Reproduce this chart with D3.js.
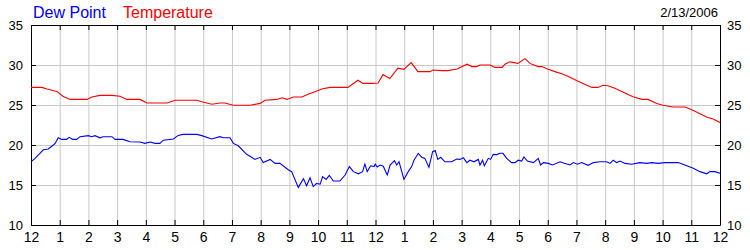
<!DOCTYPE html>
<html>
<head>
<meta charset="utf-8">
<script src="https://cdn.jsdelivr.net/npm/d3@7"></script>
<style>
  html, body { margin: 0; padding: 0; background: #fff; }
  svg { display: block; font-family: "Liberation Sans", Arial, sans-serif; }
</style>
</head>
<body>
<div id="chart"></div>
<script>
// --- Data (hours since midnight, 2/13/2006) ---
const chartDate = "2/13/2006";
const hourLabels = ["12","1","2","3","4","5","6","7","8","9","10","11","12","1","2","3","4","5","6","7","8","9","10","11","12"];
const yTicks = [10, 15, 20, 25, 30, 35];

const tempHours = [0.00,0.38,0.56,0.90,1.11,1.36,1.95,2.12,2.40,2.82,3.10,3.34,3.80,4.04,4.74,5.02,5.78,5.95,6.30,6.58,6.76,7.04,7.63,7.98,8.15,8.57,8.74,8.92,9.13,9.44,9.65,9.89,10.13,10.41,11.04,11.39,11.56,11.88,12.09,12.26,12.50,12.78,12.99,13.24,13.48,13.90,14.00,14.32,14.52,14.84,15.19,15.36,15.53,15.64,15.99,16.16,16.41,16.51,16.68,16.96,17.21,17.38,17.66,17.80,18.01,18.25,18.49,18.70,19.02,19.23,19.54,19.75,19.92,20.10,20.34,20.69,20.97,21.28,21.49,21.80,22.01,22.36,22.78,23.02,23.55,23.76,24.00];
const tempValues = [27.2,27.2,27.0,26.7,26.1,25.7,25.7,26.0,26.2,26.2,26.1,25.7,25.7,25.25,25.25,25.6,25.6,25.4,25.1,25.25,25.25,24.96,24.96,25.2,25.6,25.7,25.9,25.7,26.0,26.0,26.33,26.67,27.0,27.2,27.2,28.1,27.7,27.7,27.75,28.8,28.3,29.6,29.46,30.3,29.17,29.17,29.37,29.3,29.3,29.5,30.1,29.8,29.8,30.0,30.0,29.7,29.7,30.1,30.4,30.2,30.8,30.2,29.8,29.8,29.46,29.17,28.9,28.6,28.04,27.7,27.2,27.2,27.46,27.4,27.1,26.5,26.04,25.7,25.7,25.2,24.96,24.75,24.75,24.4,23.46,23.25,22.8];

const dewHours = [0.00,0.14,0.31,0.43,0.60,0.78,0.84,0.95,1.07,1.24,1.33,1.45,1.59,1.71,2.00,2.11,2.23,2.40,2.51,2.82,2.93,3.20,3.45,3.80,3.97,4.15,4.32,4.49,4.61,4.96,5.13,5.29,5.78,5.95,6.29,6.58,6.70,6.93,7.05,7.22,7.51,7.63,7.80,7.98,8.09,8.33,8.50,8.67,8.96,9.08,9.31,9.49,9.60,9.72,9.83,9.95,10.07,10.16,10.28,10.39,10.53,10.76,10.94,11.09,11.23,11.40,11.55,11.63,11.71,11.83,11.95,11.99,12.06,12.16,12.27,12.41,12.51,12.66,12.74,12.82,12.99,13.14,13.26,13.34,13.49,13.61,13.72,13.86,13.99,14.08,14.17,14.27,14.42,14.65,14.83,14.94,15.06,15.18,15.29,15.43,15.58,15.64,15.73,15.79,15.93,16.01,16.10,16.22,16.34,16.44,16.57,16.74,16.86,16.97,17.09,17.17,17.29,17.50,17.67,17.75,17.85,18.02,18.17,18.43,18.60,18.78,18.89,19.03,19.18,19.41,19.59,19.82,20.05,20.17,20.28,20.40,20.52,20.69,20.92,21.21,21.45,21.62,21.85,22.08,22.55,22.84,23.07,23.30,23.54,23.65,23.82,24.00];
const dewValues = [17.9,18.33,18.96,19.4,19.5,20.0,20.2,20.9,20.7,20.7,20.96,20.7,20.7,21.04,21.17,21.04,21.17,20.9,21.04,21.04,20.7,20.7,20.4,20.37,20.2,20.37,20.2,20.2,20.6,20.75,21.2,21.33,21.33,21.17,20.75,21.04,20.9,20.9,20.2,19.9,18.83,18.6,18.2,18.46,17.8,18.2,17.7,17.7,16.9,16.67,14.7,15.8,14.9,15.9,14.8,15.2,15.1,16.04,15.7,16.2,15.5,15.5,16.25,17.3,16.67,16.4,16.67,17.6,16.67,17.4,17.3,17.6,17.25,17.5,17.35,16.25,17.5,18.04,17.5,17.9,15.7,16.67,17.3,18.1,18.96,18.46,18.33,17.2,19.17,19.3,18.2,18.46,17.9,17.9,18.25,18.2,18.4,17.8,18.1,17.9,18.2,17.5,18.1,17.4,18.33,18.2,18.83,18.8,18.96,18.96,18.33,17.8,17.8,18.1,18.0,18.5,18.0,17.8,18.33,17.5,17.8,17.7,17.5,17.9,17.7,17.5,17.8,17.6,17.8,17.46,17.8,17.9,17.9,17.7,18.1,17.8,18.0,17.7,17.6,17.8,17.7,17.8,17.7,17.8,17.8,17.4,17.1,16.67,16.4,16.67,16.67,16.46];

// --- Layout ---
const width = 750, height = 250;
const margin = { top: 25, right: 30, bottom: 25, left: 31 };
const plotW = width - margin.left - margin.right, plotH = height - margin.top - margin.bottom;
const tickLen = 5;

const svg = d3.select("#chart").append("svg").attr("width", width).attr("height", height);
const g = svg.append("g").attr("transform", `translate(${margin.left},${margin.top})`);

const x = d3.scaleLinear().domain([0, 24]).range([0, plotW]);
const y = d3.scaleLinear().domain([10, 35]).range([plotH, 0]);
const hours = d3.range(0, 25);

// grid
g.append("g").selectAll("line").data(hours.slice(1, -1)).enter().append("line")
    .attr("x1", d => x(d) + 0.5).attr("x2", d => x(d) + 0.5).attr("y1", 0).attr("y2", plotH)
    .attr("stroke", "#c8c8c8");
g.append("g").selectAll("line").data(yTicks.slice(1, -1)).enter().append("line")
    .attr("x1", 0).attr("x2", plotW).attr("y1", d => y(d) + 0.5).attr("y2", d => y(d) + 0.5)
    .attr("stroke", "#c8c8c8");

// axes: ticks point inward, labels outside
const axisBottomG = g.append("g").attr("transform", `translate(0,${plotH})`)
    .call(d3.axisBottom(x).tickValues(hours).tickSize(-tickLen).tickSizeOuter(0).tickFormat((d, i) => hourLabels[i]));
const axisTopG = g.append("g").call(d3.axisTop(x).tickValues(hours).tickSize(-tickLen).tickSizeOuter(0).tickFormat(""));
const axisLeftG = g.append("g").call(d3.axisLeft(y).tickValues(yTicks).tickSize(-tickLen).tickSizeOuter(0).tickPadding(8));
const axisRightG = g.append("g").attr("transform", `translate(${plotW},0)`)
    .call(d3.axisRight(y).tickValues(yTicks).tickSize(-tickLen).tickSizeOuter(0).tickPadding(7));

[axisBottomG, axisTopG, axisLeftG, axisRightG].forEach(a => {
    a.select(".domain").attr("stroke", "#000");
    a.selectAll(".tick line").attr("stroke", "#000");
    a.selectAll("text").attr("fill", "#000").style("font-family", "'Liberation Sans', Arial, sans-serif");
});
axisBottomG.selectAll("text").style("font-size", "14px").attr("dy", "0.95em").attr("y", 4);
axisLeftG.selectAll("text").style("font-size", "13px");
axisRightG.selectAll("text").style("font-size", "13px");

// series
const line = d3.line().x(d => x(d[0])).y(d => y(d[1]));
g.append("path").datum(d3.zip(tempHours, tempValues))
    .attr("fill", "none").attr("stroke", "#ff0000").attr("stroke-width", 1.1).attr("d", line);
g.append("path").datum(d3.zip(dewHours, dewValues))
    .attr("fill", "none").attr("stroke", "#0000ff").attr("stroke-width", 1.1).attr("d", line);

// legend + date
svg.append("text").attr("x", 33).attr("y", 18).attr("fill", "#0000ff").style("font-size", "16px").text("Dew Point");
svg.append("text").attr("x", 123).attr("y", 18).attr("fill", "#ff0000").style("font-size", "16px").text("Temperature");
svg.append("text").attr("x", 718).attr("y", 17).attr("text-anchor", "end").attr("fill", "#000").style("font-size", "13px").text(chartDate);
</script>
</body>
</html>
